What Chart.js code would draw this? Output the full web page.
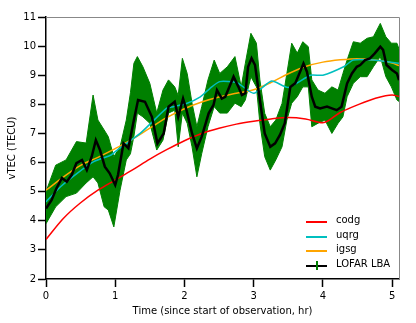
<!DOCTYPE html>
<html>
<head>
<meta charset="utf-8">
<script src="https://cdn.jsdelivr.net/npm/chart.js@4"></script>
<style>
  body { margin: 0; background: #fff; }
  #wrap { position: relative; width: 416px; height: 323px; }
  .leg { position: absolute; left: 306px; font: 10px 'DejaVu Sans', sans-serif; color: #000; }
  .leg .sw { position: absolute; left: 0; top: 0; width: 21px; height: 2px; }
  .leg .tx { position: absolute; left: 30px; top: -7px; white-space: nowrap; }
</style>
</head>
<body>
<div id="wrap">
  <canvas id="myChart" width="416" height="323"></canvas>
  <div class="leg" style="top:221px"><div class="sw" style="background:#ff0000"></div><div class="tx">codg</div></div>
  <div class="leg" style="top:236px"><div class="sw" style="background:#00bfbf"></div><div class="tx">uqrg</div></div>
  <div class="leg" style="top:250px"><div class="sw" style="background:#ffa500"></div><div class="tx">igsg</div></div>
  <div class="leg" style="top:265px"><div class="sw" style="background:#000"></div><div class="sw" style="background:#008000;left:10px;top:-4px;width:2px;height:9px"></div><div class="tx">LOFAR LBA</div></div>
</div>
<script>
// LOFAR LBA vTEC (black line) and its error band (green)
const lofarTime = [0.0, 0.08, 0.15, 0.23, 0.30, 0.37, 0.44, 0.52, 0.59, 0.66, 0.72, 0.78, 0.85, 0.92, 1.00, 1.04, 1.12, 1.19, 1.26, 1.33, 1.43, 1.53, 1.61, 1.70, 1.77, 1.86, 1.91, 1.98, 2.03, 2.11, 2.18, 2.25, 2.35, 2.42, 2.47, 2.54, 2.59, 2.71, 2.78, 2.83, 2.88, 2.92, 2.97, 3.02, 3.09, 3.16, 3.24, 3.31, 3.38, 3.45, 3.53, 3.60, 3.65, 3.72, 3.77, 3.84, 3.89, 3.96, 4.06, 4.13, 4.20, 4.27, 4.35, 4.42, 4.49, 4.54, 4.61, 4.68, 4.75, 4.83, 4.87, 4.92, 5.00, 5.07, 5.10];
const lofarTec = [4.42, 4.71, 5.11, 5.47, 5.34, 5.57, 5.98, 6.09, 5.74, 6.2, 6.77, 6.43, 5.86, 5.63, 5.23, 5.57, 6.66, 6.49, 7.35, 8.15, 8.09, 7.57, 6.66, 7.0, 7.92, 8.09, 7.57, 8.2, 7.8, 7.0, 6.49, 6.89, 7.69, 7.98, 8.49, 8.2, 8.26, 8.95, 8.6, 8.32, 8.38, 9.29, 9.58, 9.35, 8.15, 7.0, 6.54, 6.66, 6.95, 7.35, 8.6, 8.72, 9.0, 9.4, 9.12, 8.26, 7.92, 7.86, 7.92, 7.86, 7.8, 7.92, 8.72, 9.06, 9.29, 9.35, 9.52, 9.58, 9.75, 9.98, 9.87, 9.35, 9.18, 9.06, 8.83];

const bandTime = [0, 0.14, 0.29, 0.44, 0.58, 0.68, 0.75, 0.84, 0.90, 0.98, 1.07, 1.16, 1.22, 1.27, 1.32, 1.40, 1.50, 1.60, 1.69, 1.77, 1.86, 1.91, 1.97, 2.04, 2.11, 2.18, 2.25, 2.34, 2.43, 2.51, 2.62, 2.73, 2.82, 2.88, 2.96, 3.04, 3.09, 3.16, 3.24, 3.32, 3.41, 3.48, 3.55, 3.63, 3.71, 3.79, 3.84, 3.93, 4.03, 4.13, 4.22, 4.29, 4.35, 4.44, 4.54, 4.64, 4.73, 4.83, 4.91, 4.99, 5.07, 5.1];
const bandUpper = [5.0, 5.91, 6.09, 6.72, 6.67, 8.32, 7.46, 7.12, 6.89, 6.2, 6.54, 7.46, 8.4, 9.41, 9.64, 9.29, 8.72, 7.7, 8.49, 8.84, 8.6, 8.3, 9.58, 9.06, 8.04, 7.23, 7.92, 8.84, 9.52, 9.06, 9.29, 9.64, 8.6, 9.41, 10.44, 10.1, 8.84, 7.69, 7.23, 7.46, 8.03, 9.06, 10.1, 9.76, 10.15, 9.98, 8.84, 8.49, 8.38, 8.6, 8.49, 9.06, 9.52, 10.15, 10.1, 10.27, 10.32, 10.78, 10.32, 10.1, 10.1, 9.9];
const bandLower = [3.9, 4.48, 4.83, 4.95, 5.3, 5.51, 5.3, 4.48, 4.37, 3.79, 5.05, 6.09, 6.3, 6.9, 7.7, 7.57, 7.35, 6.43, 6.77, 7.7, 7.8, 6.54, 7.7, 7.35, 6.54, 5.51, 6.31, 7.23, 7.92, 7.7, 7.7, 8.04, 7.92, 8.15, 8.95, 8.6, 7.35, 6.2, 5.74, 6.09, 6.54, 7.46, 8.04, 8.26, 8.6, 8.6, 7.23, 7.35, 7.46, 7.0, 7.35, 7.57, 8.26, 8.72, 8.95, 8.95, 9.29, 9.64, 8.95, 8.6, 8.15, 8.1];

// GIM models
const modelTime = [0, 0.25, 0.5, 0.75, 1, 1.25, 1.5, 1.75, 2, 2.25, 2.5, 2.75, 3, 3.25, 3.5, 3.75, 4, 4.25, 4.5, 4.75, 5, 5.1];
const codg = [3.36, 4.08, 4.62, 5.05, 5.4, 5.75, 6.12, 6.45, 6.75, 7.0, 7.18, 7.32, 7.42, 7.5, 7.55, 7.5, 7.37, 7.72, 7.98, 8.2, 8.32, 8.27];
const igsg = [5.05, 5.5, 5.9, 6.18, 6.48, 6.8, 7.18, 7.55, 7.85, 8.08, 8.25, 8.38, 8.5, 8.75, 9.05, 9.3, 9.45, 9.53, 9.57, 9.52, 9.42, 9.33];
const uqrgTime = [0, 0.21, 0.45, 0.69, 0.94, 1.03, 1.36, 1.74, 1.84, 2.03, 2.23, 2.37, 2.51, 2.76, 3.0, 3.26, 3.5, 3.82, 4.0, 4.3, 4.44, 4.73, 5.1];
const uqrg = [4.65, 5.17, 5.63, 6.03, 6.26, 6.43, 7.0, 7.86, 7.92, 8.03, 8.26, 8.55, 8.78, 8.74, 8.38, 8.8, 8.58, 9.0, 9.0, 9.29, 9.52, 9.52, 9.41];

const xTicks = [0, 1, 2, 3, 4, 5];
const yTicks = [2, 3, 4, 5, 6, 7, 8, 9, 10, 11];

function pts(xs, ys) {
    return xs.map((x, i) => ({ x: x, y: ys[i] }));
}

Chart.defaults.font.family = "'DejaVu Sans', sans-serif";
Chart.defaults.font.size = 10;
Chart.defaults.color = '#000';

const frame = {
    id: 'frame',
    afterDraw(chart) {
        const a = chart.chartArea;
        const c = chart.ctx;
        c.save();
        c.strokeStyle = '#888';
        c.lineWidth = 1;
        c.beginPath();
        c.moveTo(a.left, a.top + 0.5);
        c.lineTo(a.right + 0.5, a.top + 0.5);
        c.lineTo(a.right + 0.5, a.bottom);
        c.stroke();
        c.restore();
    }
};

const ctx = document.getElementById('myChart').getContext('2d');
const myChart = new Chart(ctx, {
    type: 'line',
    data: {
        datasets: [
            { label: 'LOFAR LBA', data: pts(lofarTime, lofarTec), borderColor: '#000', borderWidth: 2.5, pointRadius: 0, tension: 0, fill: false },
            { label: 'codg', data: pts(modelTime, codg), borderColor: '#ff0000', borderWidth: 1.5, pointRadius: 0, cubicInterpolationMode: 'monotone', fill: false },
            { label: 'uqrg', data: pts(uqrgTime, uqrg), borderColor: '#00bfbf', borderWidth: 1.5, pointRadius: 0, tension: 0.2, fill: false },
            { label: 'igsg', data: pts(modelTime, igsg), borderColor: '#ffa500', borderWidth: 1.5, pointRadius: 0, cubicInterpolationMode: 'monotone', fill: false },
            { label: 'upper', data: pts(bandTime, bandUpper), borderColor: '#008000', backgroundColor: '#008000', borderWidth: 1, pointRadius: 0, tension: 0, fill: '+1' },
            { label: 'lower', data: pts(bandTime, bandLower), borderColor: '#008000', borderWidth: 1, pointRadius: 0, tension: 0, fill: false }
        ]
    },
    options: {
        responsive: false,
        animation: false,
        devicePixelRatio: 1,
        layout: { padding: { top: 17, right: 17, left: 0, bottom: 0 } },
        plugins: { legend: { display: false }, tooltip: { enabled: false } },
        scales: {
            x: {
                type: 'linear',
                min: 0,
                max: 5.1,
                afterBuildTicks: s => { s.ticks = xTicks.map(v => ({ value: v })); },
                afterFit: s => { s.height = 44; },
                grid: { drawOnChartArea: false, tickLength: 8, tickWidth: 1.5, tickColor: '#000' },
                border: { color: '#000', width: 1.5 },
                ticks: { padding: 3, maxRotation: 0, color: '#000' },
                title: { display: true, text: 'Time (since start of observation, hr)', padding: { top: 0, bottom: 6 }, color: '#000' }
            },
            y: {
                min: 2,
                max: 11,
                afterBuildTicks: s => { s.ticks = yTicks.map(v => ({ value: v })); },
                afterFit: s => { s.width = 46; },
                grid: { drawOnChartArea: false, tickLength: 8, tickWidth: 1.5, tickColor: '#000' },
                border: { color: '#000', width: 1.5 },
                ticks: { padding: 2, color: '#000' },
                title: { display: true, text: 'vTEC (TECU)', padding: { top: 6, bottom: 0 }, color: '#000' }
            }
        }
    },
    plugins: [frame]
});
</script>
</body>
</html>
